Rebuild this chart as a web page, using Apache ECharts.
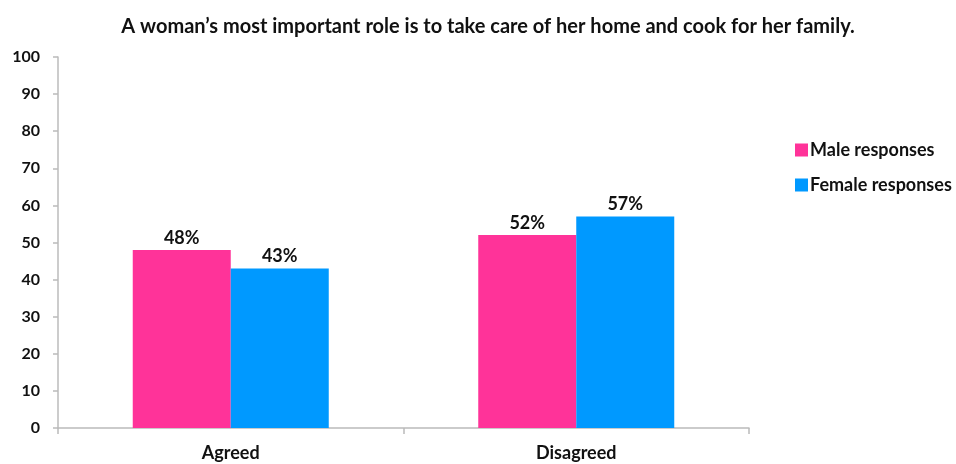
<!DOCTYPE html>
<html>
<head>
<meta charset="utf-8">
<script src="https://cdn.jsdelivr.net/npm/echarts@6/dist/echarts.min.js"></script>
<style>
  html, body { margin: 0; padding: 0; background: #fff; }
  #chart { width: 956px; height: 464px; }
</style>
</head>
<body>
<div id="chart"></div>
<script>
// Données
const categories = ["Agreed", "Disagreed"];
const maleValues = [48, 52];
const femaleValues = [43, 57];
const yTicks = [0, 10, 20, 30, 40, 50, 60, 70, 80, 90, 100];

const police = "Lato, 'Open Sans', sans-serif";

document.addEventListener("DOMContentLoaded", () => {
    const chart = echarts.init(document.getElementById("chart"));

    const labelStyle = {
        show: true,
        position: "top",
        formatter: p => p.value + "%",
        color: "#111",
        fontWeight: "bold",
        fontSize: 18,
        fontFamily: police,
        distance: 3
    };

    const option = {
        backgroundColor: "#fff",
        animation: false,
        title: {
            text: "A woman\u2019s most important role is to take care of her home and cook for her family.",
            left: 483,
            textAlign: "center",
            top: 12,
            textStyle: { fontSize: 20, fontWeight: "bold", color: "#111", fontFamily: police }
        },
        legend: {
            orient: "vertical",
            left: 790,
            top: 136,
            itemGap: 17,
            itemWidth: 13,
            itemHeight: 13,
            icon: "rect",
            textStyle: { fontSize: 18, fontWeight: "bold", color: "#111", fontFamily: police, padding: [0, 0, 0, -3] },
            data: ["Male responses", "Female responses"]
        },
        grid: { left: 58, right: 207, top: 57, bottom: 36 },
        xAxis: {
            type: "category",
            data: categories,
            axisLine: { lineStyle: { color: "#bbb", width: 1.5 } },
            axisTick: { show: true, length: 6, lineStyle: { color: "#bbb", width: 1.5 } },
            axisLabel: { color: "#111", fontWeight: "bold", fontSize: 18, fontFamily: police, margin: 16 }
        },
        yAxis: {
            type: "value",
            min: 0,
            max: yTicks[yTicks.length - 1],
            interval: yTicks[1] - yTicks[0],
            axisLine: { show: true, lineStyle: { color: "#bbb", width: 1.5 } },
            axisTick: { show: true, length: 5, lineStyle: { color: "#bbb", width: 1.5 } },
            splitLine: { show: false },
            axisLabel: { color: "#111", fontWeight: "bold", fontSize: 16, fontFamily: police, margin: 18 }
        },
        series: [
            {
                name: "Male responses",
                type: "bar",
                data: maleValues,
                barWidth: 98,
                barGap: "0%",
                itemStyle: { color: "#FF3399" },
                label: labelStyle
            },
            {
                name: "Female responses",
                type: "bar",
                data: femaleValues,
                barWidth: 98,
                itemStyle: { color: "#0099FF" },
                label: labelStyle
            }
        ]
    };

    chart.setOption(option);
    window.addEventListener("resize", () => chart.resize());
});
</script>
</body>
</html>
